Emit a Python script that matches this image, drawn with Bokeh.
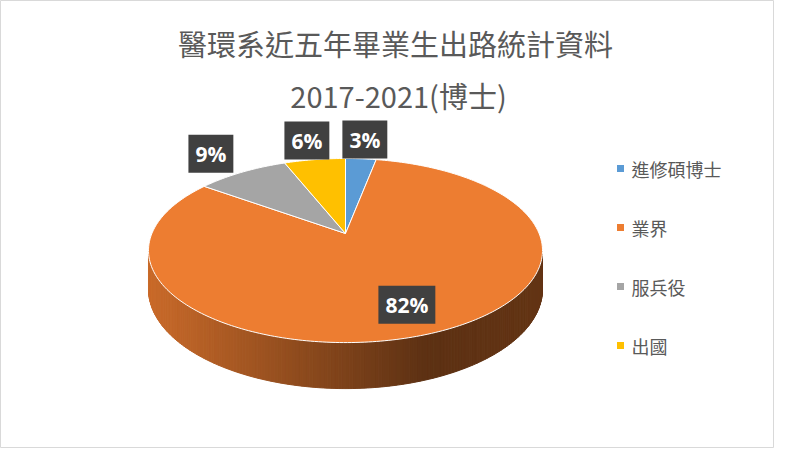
import numpy as np

from bokeh.core.properties import value
from bokeh.embed import file_html
from bokeh.models import Label, Range1d
from bokeh.plotting import figure
from bokeh.resources import INLINE

# data
categories = ["進修碩博士", "業界", "服兵役", "出國"]
shares = [3, 82, 9, 6]
colors = ["#5B9BD5", "#ED7D31", "#A5A5A5", "#FFC000"]
title_lines = ["醫環系近五年畢業生出路統計資料", "2017-2021(博士)"]

# figure geometry in pixels
W, H = 774, 448
CX, CY = 345, 233          # pie apex
F, G, C = 193.6, 88.9, 0.185  # perspective projection of the tilted disc
DEPTH = 37.5               # thickness of the pie
label_r = [1.32, 0.75, 1.36, 1.32]


def project(phi, r=1.0):
    u = r * np.sin(phi)
    v = -r * np.cos(phi)
    d = 1 - C * v
    return CX + F * u / d, CY + G * v / d, 1 / d


def shade(hex_color, x):
    xl, xd, xr = CX - F / np.sqrt(1 - C**2), 425.0, CX + F / np.sqrt(1 - C**2)
    if x <= xd:
        f = 0.85 - 0.46 * np.clip((x - xl) / (xd - xl), 0, 1)
    else:
        f = 0.39 + 0.03 * (x - xd) / (xr - xd)
    rgb = [int(hex_color[i:i + 2], 16) for i in (1, 3, 5)]
    return "#%02x%02x%02x" % tuple(int(round(c * f)) for c in rgb)


total = sum(shares)
fracs = np.array(shares) / total
ends = np.cumsum(fracs) * 2 * np.pi
starts = ends - fracs * 2 * np.pi

p = figure(width=W, height=H, x_range=Range1d(0, W), y_range=Range1d(H, 0),
           output_backend="svg", toolbar_location=None, min_border=0,
           x_axis_location=None, y_axis_location=None)
p.grid.visible = False
p.outline_line_color = "#d9d9d9"
p.background_fill_color = "white"

# side wall, drawn as thin strips with a left-to-right shading
phi_r = np.arccos(-C)
edges = np.linspace(phi_r, 2 * np.pi - phi_r, 181)
wx, wy, wc = [], [], []
for a, b in zip(edges[:-1], edges[1:]):
    x0, y0, s0 = project(a)
    x1, y1, s1 = project(b)
    idx = int(np.searchsorted(ends, (a + b) / 2))
    wx.append([x0, x1, x1, x0])
    wy.append([y0, y1, y1 + DEPTH * s1, y0 + DEPTH * s0])
    wc.append(shade(colors[idx], (x0 + x1) / 2))
p.patches(wx, wy, fill_color=wc, line_color=wc, line_width=1)

# top face
xs, ys = [], []
for a0, a1 in zip(starts, ends):
    n = max(4, int(np.degrees(a1 - a0)))
    phi = np.linspace(a0, a1, n)
    px, py, _ = project(phi)
    xs.append([CX, *px])
    ys.append([CY, *py])
p.patches(xs, ys, fill_color=colors, line_color="white", line_width=1)

# data labels
mids = (starts + ends) / 2
lx, ly, _ = project(mids, np.array(label_r))
pct = [f"{round(100 * f)}%" for f in fracs]
p.text(lx, ly, text=pct, text_align="center", text_baseline="middle",
       text_color="white", text_font=value("Open Sans"), text_font_style="bold",
       text_font_size="21px", background_fill_color="#404040",
       padding=dict(left=7, right=7, top=5, bottom=5))

# legend
rows = np.arange(len(categories))
leg_y = 168 + rows * 59
p.scatter(np.full(len(rows), 620), leg_y, marker="square", size=7,
          fill_color=colors, line_color=None)
p.text(np.full(len(rows), 631), leg_y, text=categories, text_align="left",
       text_baseline="middle", text_color="#595959",
       text_font=value("Noto Sans CJK TC"), text_font_size="18px")

# title
for line, tx, ty in zip(title_lines, [395, 398], [42.5, 94]):
    p.add_layout(Label(x=tx, y=ty, text=line, text_align="center",
                       text_baseline="middle", text_color="#595959",
                       text_font="Noto Sans CJK TC", text_font_size="29px"))

open("out.html", "w").write(file_html(p, INLINE))
